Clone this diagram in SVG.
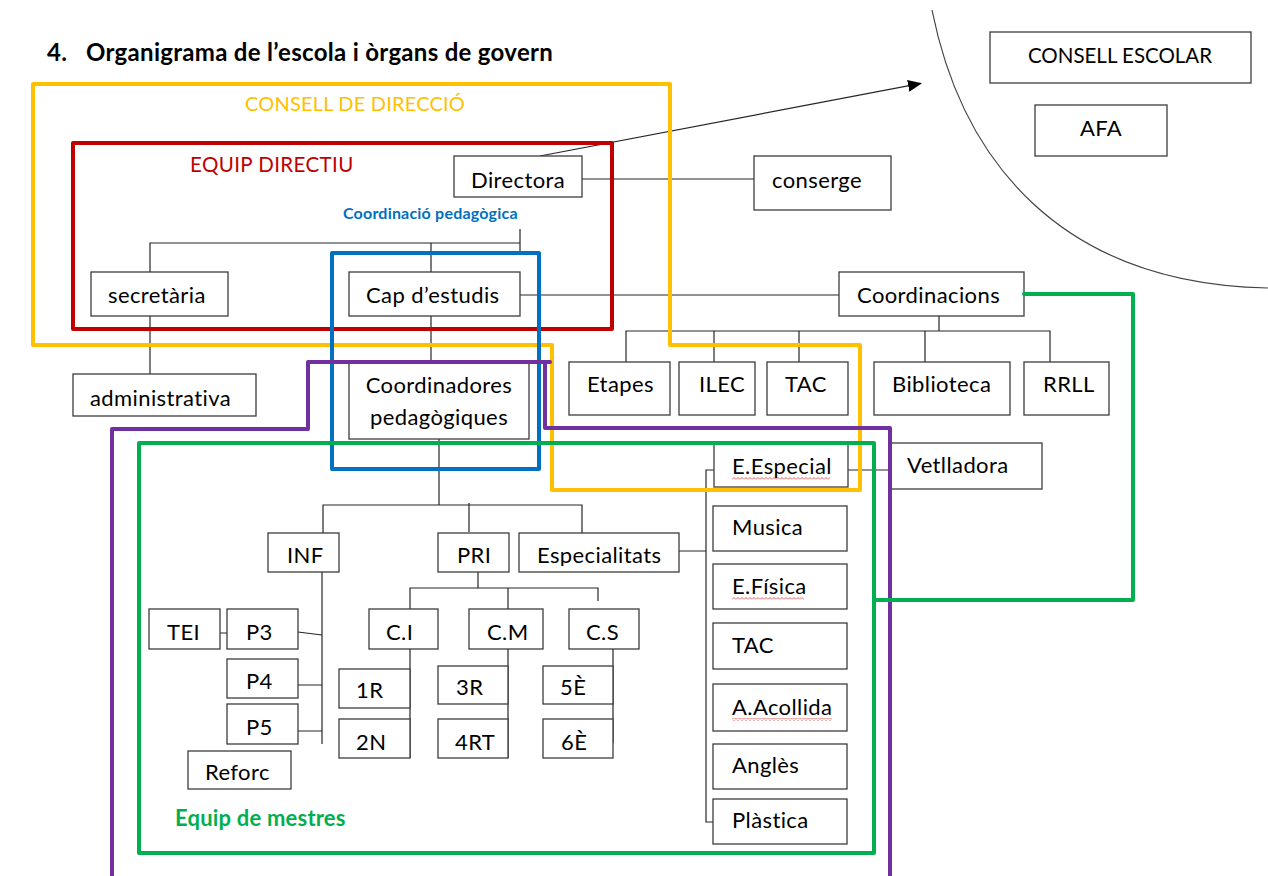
<svg xmlns="http://www.w3.org/2000/svg" width="1268" height="876" viewBox="0 0 1268 876">
<style>
.box{fill:#fff;stroke:#3c3c3c;stroke-width:1.3}
.t{font-family:Lato,"Liberation Sans",sans-serif;font-size:22px;letter-spacing:0.4px;fill:#000}
.ln{fill:none;stroke:#262626;stroke-width:1.2}
.fr{fill:none;stroke-width:4;stroke-linejoin:round;stroke-linecap:round}
</style>
<defs>
<marker id="arr" markerWidth="14" markerHeight="12" refX="13" refY="6" orient="auto" markerUnits="userSpaceOnUse">
<path d="M0,0 L14,6 L0,12 z" fill="#000"/>
</marker>
<pattern id="squig" width="4" height="3" patternUnits="userSpaceOnUse">
<polyline points="0,2.5 2,0.5 4,2.5" fill="none" stroke="#e03030" stroke-width="0.8"/>
</pattern>
<clipPath id="clipCP"><rect x="330" y="195" width="200" height="27"/></clipPath>
<clipPath id="clipEsp"><rect x="520" y="534" width="158" height="32"/></clipPath>
</defs>
<rect width="1268" height="876" fill="#fff"/>

<g id="title">
<text x="47" y="61" class="t" style="font-weight:bold;font-size:24px;letter-spacing:0.3px">4.</text>
<text x="86" y="61" class="t" style="font-weight:bold;font-size:24px;letter-spacing:0.3px">Organigrama de l’escola i òrgans de govern</text>
</g>

<path id="arc" d="M932 10 C962 160 1060 284 1268 288" fill="none" stroke="#444" stroke-width="1.2"/>

<g id="connectors">
<path class="ln" d="M540 156 L921 83.4" stroke-width="1.8" marker-end="url(#arr)"/>
<path class="ln" d="M582 179 H754"/>
<path class="ln" d="M520 229 V253 M150 272 V243 H520 M431 243 V272"/>
<path class="ln" d="M150 316 V374"/>
<path class="ln" d="M520 295 H839"/>
<path class="ln" d="M431 316 V363"/>
<path class="ln" d="M939 316 V331 M626 362 V331 H1050 V362 M714 331 V362 M799 331 V362 M925 331 V362"/>
<path class="ln" d="M439 439 V505 M323 533 V505 H582 V533 M469 503 V532"/>
<path class="ln" d="M679 551 H706 M714 470 H706 V822 H713"/>
<path class="ln" d="M848 470 H890"/>
<path class="ln" d="M322 572 V744 M298 632 L322 635 M298 685 H322 M298 731 H322 M220 633 H227"/>
<path class="ln" d="M478 572 V588 M410 609 V588 H598 V601 M508 588 V609"/>
<path class="ln" d="M410 649 V758 M508 649 V758 M613 649 V743"/>
</g>

<g id="n-directora"><rect class="box" x="454" y="156" width="128" height="41"/><text class="t" x="471" y="188">Directora</text></g>
<g id="n-conserge"><rect class="box" x="754" y="156" width="137" height="54"/><text class="t" x="772" y="188">conserge</text></g>
<g id="n-consell-escolar"><rect class="box" x="990" y="32" width="261" height="51"/><text class="t" x="1120" y="63" text-anchor="middle" style="font-size:20.5px;letter-spacing:0">CONSELL ESCOLAR</text></g>
<g id="n-afa"><rect class="box" x="1035" y="105" width="132" height="51"/><text class="t" x="1101" y="136" text-anchor="middle">AFA</text></g>
<g id="n-secretaria"><rect class="box" x="91" y="272" width="137" height="44"/><text class="t" x="108" y="303">secretària</text></g>
<g id="n-cap-estudis"><rect class="box" x="349" y="272" width="171" height="44"/><text class="t" x="366" y="303">Cap d’estudis</text></g>
<g id="n-coordinacions"><rect class="box" x="839" y="272" width="185" height="44"/><text class="t" x="857" y="303">Coordinacions</text></g>
<g id="n-administrativa"><rect class="box" x="73" y="374" width="183" height="42"/><text class="t" x="90" y="406">administrativa</text></g>
<g id="n-coordinadores"><rect class="box" x="349" y="363" width="180" height="76"/><text class="t" x="439" y="393" text-anchor="middle">Coordinadores</text><text class="t" x="439" y="425" text-anchor="middle">pedagògiques</text></g>
<g id="n-etapes"><rect class="box" x="569" y="362" width="101" height="53"/><text class="t" x="587" y="392">Etapes</text></g>
<g id="n-ilec"><rect class="box" x="679" y="362" width="76" height="53"/><text class="t" x="699" y="392">ILEC</text></g>
<g id="n-tac1"><rect class="box" x="767" y="362" width="81" height="53"/><text class="t" x="785" y="392">TAC</text></g>
<g id="n-biblioteca"><rect class="box" x="874" y="362" width="136" height="53"/><text class="t" x="892" y="392">Biblioteca</text></g>
<g id="n-rrll"><rect class="box" x="1024" y="362" width="85" height="53"/><text class="t" x="1043" y="392">RRLL</text></g>
<g id="n-eespecial"><rect class="box" x="714" y="444" width="134" height="43"/><text class="t" x="732" y="474">E.Especial</text><rect x="732" y="477" width="98" height="3" fill="url(#squig)"/></g>
<g id="n-vetlladora"><rect class="box" x="890" y="443" width="152" height="46"/><text class="t" x="907" y="473">Vetlladora</text></g>
<g id="n-inf"><rect class="box" x="268" y="533" width="71" height="39"/><text class="t" x="287" y="563">INF</text></g>
<g id="n-pri"><rect class="box" x="438" y="533" width="71" height="39"/><text class="t" x="457" y="563">PRI</text></g>
<g id="n-especialitats"><rect class="box" x="519" y="533" width="160" height="39"/><text class="t" x="537" y="563" clip-path="url(#clipEsp)">Especialitats</text></g>
<g id="n-musica"><rect class="box" x="713" y="506" width="134" height="45"/><text class="t" x="732" y="535">Musica</text></g>
<g id="n-efisica"><rect class="box" x="713" y="564" width="134" height="45"/><text class="t" x="732" y="594">E.Física</text><rect x="732" y="597" width="72" height="3" fill="url(#squig)"/></g>
<g id="n-tac2"><rect class="box" x="713" y="623" width="134" height="46"/><text class="t" x="732" y="653">TAC</text></g>
<g id="n-aacollida"><rect class="box" x="713" y="684" width="134" height="47"/><text class="t" x="732" y="715">A.Acollida</text><rect x="732" y="718" width="100" height="3" fill="url(#squig)"/></g>
<g id="n-angles"><rect class="box" x="713" y="744" width="134" height="45"/><text class="t" x="732" y="773">Anglès</text></g>
<g id="n-plastica"><rect class="box" x="713" y="799" width="134" height="45"/><text class="t" x="732" y="828">Plàstica</text></g>
<g id="n-tei"><rect class="box" x="149" y="609" width="71" height="40"/><text class="t" x="167" y="640">TEI</text></g>
<g id="n-p3"><rect class="box" x="227" y="609" width="71" height="40"/><text class="t" x="246" y="640">P3</text></g>
<g id="n-p4"><rect class="box" x="227" y="659" width="71" height="39"/><text class="t" x="246" y="689">P4</text></g>
<g id="n-p5"><rect class="box" x="227" y="704" width="71" height="40"/><text class="t" x="246" y="735">P5</text></g>
<g id="n-reforc"><rect class="box" x="188" y="751" width="103" height="38"/><text class="t" x="205" y="780">Reforc</text></g>
<g id="n-ci"><rect class="box" x="369" y="609" width="69" height="40"/><text class="t" x="386" y="640">C.I</text></g>
<g id="n-cm"><rect class="box" x="469" y="609" width="74" height="40"/><text class="t" x="487" y="640">C.M</text></g>
<g id="n-cs"><rect class="box" x="569" y="609" width="70" height="40"/><text class="t" x="586" y="640">C.S</text></g>
<g id="n-1r"><rect class="box" x="339" y="669" width="71" height="39"/><text class="t" x="356" y="698">1R</text></g>
<g id="n-2n"><rect class="box" x="339" y="719" width="71" height="39"/><text class="t" x="356" y="750">2N</text></g>
<g id="n-3r"><rect class="box" x="438" y="666" width="70" height="38"/><text class="t" x="456" y="695">3R</text></g>
<g id="n-4rt"><rect class="box" x="438" y="719" width="70" height="39"/><text class="t" x="455" y="750">4RT</text></g>
<g id="n-5e"><rect class="box" x="543" y="666" width="70" height="38"/><text class="t" x="560" y="695">5È</text></g>
<g id="n-6e"><rect class="box" x="543" y="719" width="70" height="39"/><text class="t" x="561" y="750">6È</text></g>

<g id="frames">
<path class="fr" stroke="#FFC000" d="M33 84 H670 V345 H860 V490 H552 V345 H33 Z"/>
<rect class="fr" stroke="#C00000" x="73" y="143" width="539" height="186"/>
<rect class="fr" stroke="#0070C0" x="332" y="253" width="207" height="216"/>
<path class="fr" stroke="#7030A0" d="M112 880 V429 H308 V362 H550 M545 362 V428 H890 V880"/>
<path class="fr" stroke="#00B050" d="M139 443 H874 V853 H139 Z M874 600 H1133 V294 H1024"/>
<text class="t" x="355" y="111" text-anchor="middle" style="fill:#FFC000;font-size:20px;letter-spacing:0.2px">CONSELL DE DIRECCIÓ</text>
<text class="t" x="190" y="172" style="fill:#C00000;font-size:20.5px;letter-spacing:0.4px">EQUIP DIRECTIU</text>
<text class="t" x="343" y="219" clip-path="url(#clipCP)" style="fill:#0070C0;font-size:16px;letter-spacing:0.2px;font-weight:bold">Coordinació pedagògica</text>
<text class="t" x="175" y="826" style="fill:#00B050;font-size:22px;letter-spacing:0.2px;font-weight:bold">Equip de mestres</text>
</g>
</svg>
